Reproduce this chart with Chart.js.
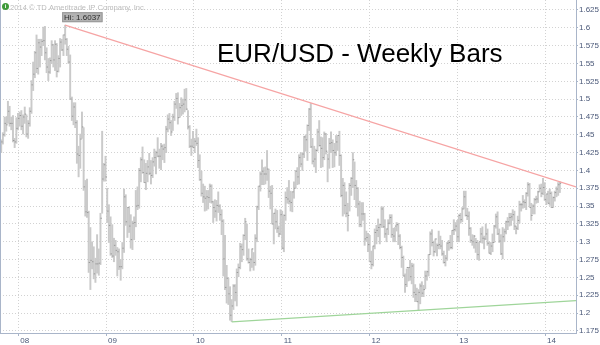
<!DOCTYPE html>
<html>
<head>
<meta charset="utf-8">
<title>EUR/USD - Weekly Bars</title>
<script src="https://cdn.jsdelivr.net/npm/chart.js@4.4.1/dist/chart.umd.min.js"></script>
<style>
  html, body { margin: 0; padding: 0; background: #fff; }
  #wrap { width: 600px; height: 345px; }
</style>
</head>
<body>
<div id="wrap"><canvas id="chart" width="600" height="345"></canvas></div>
<script>
//
//    EUR/USD weekly bars, Oct 2007 - Mar 2014
//

// first bar is the week of 15 Oct 2007, one bar per week after that
const firstWeek = 2007.786;
const weekStep  = 7 / 365.25;

// weekly highs, one line per month
const weekHigh = [
  1.438, 1.443, 1.453,                          // 2007 Oct
  1.475, 1.475, 1.497, 1.490,                   // Nov
  1.475, 1.477, 1.445, 1.474, 1.480,            // Dec
  1.482, 1.484, 1.478, 1.489,                   // 2008 Jan
  1.478, 1.470, 1.488, 1.526,                   // Feb
  1.552, 1.567, 1.590, 1.584, 1.584,            // Mar
  1.584, 1.601, 1.602, 1.572,                   // Apr
  1.557, 1.558, 1.582, 1.577,                   // May
  1.582, 1.578, 1.561, 1.585, 1.584,            // Jun
  1.590, 1.6037, 1.585, 1.574,                  // Jul
  1.562, 1.503, 1.495, 1.495,                   // Aug
  1.470, 1.434, 1.451, 1.482, 1.460,            // Sep
  1.386, 1.388, 1.343, 1.320,                   // Oct
  1.300, 1.293, 1.277, 1.310,                   // Nov
  1.290, 1.340, 1.455, 1.410, 1.420,            // Dec
  1.375, 1.352, 1.335, 1.324,                   // 2009 Jan
  1.305, 1.302, 1.292, 1.290,                   // Feb
  1.275, 1.299, 1.374, 1.366, 1.348,            // Mar
  1.349, 1.338, 1.329, 1.335,                   // Apr
  1.372, 1.377, 1.403, 1.418,                   // May
  1.433, 1.415, 1.410, 1.414, 1.424,            // Jun
  1.414, 1.418, 1.430, 1.427,                   // Jul
  1.446, 1.430, 1.438, 1.436, 1.437,            // Aug
  1.462, 1.478, 1.480, 1.470,                   // Sep
  1.479, 1.497, 1.508, 1.509,                   // Oct
  1.494, 1.502, 1.500, 1.514, 1.515,            // Nov
  1.484, 1.463, 1.444, 1.455,                   // Dec
  1.445, 1.458, 1.446, 1.422,                   // 2010 Jan
  1.399, 1.381, 1.378, 1.372,                   // Feb
  1.372, 1.381, 1.380, 1.357, 1.359,            // Mar
  1.358, 1.370, 1.352, 1.345,                   // Apr
  1.331, 1.309, 1.267, 1.249, 1.237,            // May
  1.219, 1.240, 1.240, 1.262,                   // Jun
  1.269, 1.298, 1.297, 1.310,                   // Jul
  1.333, 1.325, 1.290, 1.277, 1.290,            // Aug
  1.285, 1.310, 1.350, 1.378,                   // Sep
  1.398, 1.415, 1.404, 1.405,                   // Oct
  1.428, 1.402, 1.378, 1.379, 1.340,            // Nov
  1.346, 1.344, 1.322, 1.345,                   // Dec
  1.343, 1.338, 1.370, 1.376, 1.386,            // 2011 Jan
  1.371, 1.370, 1.384, 1.400,                   // Feb
  1.404, 1.422, 1.425, 1.425,                   // Mar
  1.448, 1.450, 1.464, 1.487,                   // Apr
  1.494, 1.445, 1.434, 1.430, 1.458,            // May
  1.470, 1.447, 1.446, 1.454,                   // Jun
  1.452, 1.423, 1.445, 1.454,                   // Jul
  1.443, 1.438, 1.449, 1.449, 1.455,            // Aug
  1.422, 1.389, 1.383, 1.370,                   // Sep
  1.354, 1.382, 1.390, 1.425, 1.412,            // Oct
  1.386, 1.376, 1.357, 1.355,                   // Nov
  1.355, 1.340, 1.315, 1.312,                   // Dec
  1.309, 1.287, 1.294, 1.318, 1.323,            // 2012 Jan
  1.332, 1.325, 1.349, 1.349,                   // Feb
  1.331, 1.318, 1.331, 1.338,                   // Mar
  1.338, 1.319, 1.320, 1.327, 1.326,            // Apr
  1.310, 1.294, 1.280, 1.255,                   // May
  1.262, 1.264, 1.274, 1.270,                   // Jun
  1.269, 1.240, 1.235, 1.233, 1.241,            // Jul
  1.244, 1.239, 1.259, 1.259,                   // Aug
  1.282, 1.314, 1.317, 1.301,                   // Sep
  1.304, 1.297, 1.315, 1.308, 1.302,            // Oct
  1.287, 1.281, 1.299, 1.302,                   // Nov
  1.309, 1.316, 1.331, 1.327, 1.330,            // Dec
  1.338, 1.340, 1.348, 1.371,                   // 2013 Jan
  1.371, 1.347, 1.342, 1.320,                   // Feb
  1.310, 1.309, 1.305, 1.302,                   // Mar
  1.299, 1.319, 1.321, 1.308, 1.325,            // Apr
  1.318, 1.300, 1.299, 1.311,                   // May
  1.323, 1.339, 1.342, 1.318,                   // Jun
  1.310, 1.320, 1.318, 1.329, 1.334,            // Jul
  1.340, 1.340, 1.345, 1.343,                   // Aug
  1.322, 1.336, 1.357, 1.354, 1.365,            // Sep
  1.359, 1.369, 1.383, 1.382,                   // Oct
  1.354, 1.352, 1.361, 1.364,                   // Nov
  1.371, 1.380, 1.381, 1.389, 1.383,            // Dec
  1.367, 1.371, 1.374, 1.370,                   // 2014 Jan
  1.363, 1.371, 1.377, 1.383,                   // Feb
  1.384                                         // Mar
];

// weekly lows
const weekLow = [
  1.420, 1.425, 1.437,
  1.448, 1.455, 1.466, 1.462,
  1.457, 1.440, 1.432, 1.438, 1.457,
  1.462, 1.457, 1.451, 1.466,
  1.447, 1.445, 1.462, 1.480,
  1.512, 1.530, 1.537, 1.535, 1.545,
  1.561, 1.575, 1.555, 1.537,
  1.526, 1.536, 1.550, 1.545,
  1.540, 1.531, 1.538, 1.545, 1.568,
  1.561, 1.577, 1.561, 1.550,
  1.500, 1.470, 1.464, 1.460,
  1.410, 1.391, 1.403, 1.445, 1.372,
  1.336, 1.334, 1.257, 1.233,
  1.262, 1.248, 1.243, 1.256,
  1.253, 1.268, 1.340, 1.385, 1.385,
  1.327, 1.299, 1.281, 1.278,
  1.272, 1.281, 1.252, 1.261,
  1.246, 1.262, 1.285, 1.323, 1.306,
  1.313, 1.291, 1.289, 1.303,
  1.321, 1.345, 1.347, 1.384,
  1.396, 1.383, 1.373, 1.384, 1.394,
  1.381, 1.390, 1.406, 1.395,
  1.419, 1.403, 1.401, 1.415, 1.411,
  1.425, 1.454, 1.458, 1.449,
  1.456, 1.470, 1.487, 1.465,
  1.474, 1.477, 1.479, 1.482, 1.485,
  1.458, 1.432, 1.421, 1.432,
  1.425, 1.435, 1.404, 1.386,
  1.364, 1.355, 1.343, 1.344,
  1.346, 1.355, 1.354, 1.327, 1.334,
  1.329, 1.341, 1.330, 1.310,
  1.252, 1.233, 1.214, 1.212, 1.190,
  1.188, 1.205, 1.217, 1.210,
  1.251, 1.262, 1.272, 1.281,
  1.303, 1.274, 1.270, 1.259, 1.264,
  1.260, 1.267, 1.300, 1.345,
  1.371, 1.380, 1.380, 1.381,
  1.386, 1.362, 1.346, 1.325, 1.297,
  1.318, 1.313, 1.307, 1.310,
  1.290, 1.286, 1.330, 1.354, 1.353,
  1.343, 1.342, 1.361, 1.375,
  1.380, 1.381, 1.405, 1.400,
  1.418, 1.427, 1.414, 1.456,
  1.432, 1.409, 1.405, 1.397, 1.427,
  1.434, 1.404, 1.405, 1.415,
  1.423, 1.384, 1.403, 1.425,
  1.404, 1.405, 1.421, 1.428, 1.407,
  1.363, 1.336, 1.339, 1.335,
  1.315, 1.343, 1.365, 1.376, 1.359,
  1.348, 1.336, 1.321, 1.321,
  1.330, 1.295, 1.301, 1.286,
  1.272, 1.262, 1.266, 1.290, 1.297,
  1.307, 1.297, 1.320, 1.320,
  1.306, 1.300, 1.310, 1.325,
  1.306, 1.300, 1.300, 1.315, 1.296,
  1.290, 1.264, 1.252, 1.229,
  1.237, 1.245, 1.246, 1.241,
  1.222, 1.216, 1.216, 1.204, 1.213,
  1.223, 1.223, 1.234, 1.246,
  1.252, 1.282, 1.294, 1.280,
  1.285, 1.280, 1.290, 1.290, 1.281,
  1.270, 1.266, 1.274, 1.288,
  1.290, 1.290, 1.310, 1.315, 1.300,
  1.300, 1.326, 1.328, 1.346,
  1.336, 1.331, 1.309, 1.299,
  1.295, 1.291, 1.285, 1.275,
  1.274, 1.299, 1.298, 1.290, 1.303,
  1.295, 1.284, 1.282, 1.286,
  1.299, 1.319, 1.310, 1.299,
  1.282, 1.276, 1.300, 1.311, 1.317,
  1.322, 1.323, 1.330, 1.317,
  1.311, 1.317, 1.326, 1.343, 1.347,
  1.348, 1.345, 1.364, 1.349,
  1.330, 1.339, 1.339, 1.354,
  1.355, 1.370, 1.363, 1.366, 1.358,
  1.352, 1.354, 1.351, 1.348,
  1.348, 1.357, 1.363, 1.365,
  1.369
];

// weekly closes
const weekClose = [
  1.433, 1.440, 1.450,
  1.466, 1.464, 1.483, 1.466,
  1.466, 1.442, 1.440, 1.459, 1.473,
  1.477, 1.462, 1.475, 1.479,
  1.451, 1.466, 1.483, 1.520,
  1.535, 1.565, 1.543, 1.579, 1.573,
  1.581, 1.582, 1.565, 1.545,
  1.538, 1.554, 1.576, 1.555,
  1.577, 1.539, 1.557, 1.580, 1.569,
  1.590, 1.584, 1.570, 1.552,
  1.500, 1.476, 1.489, 1.467,
  1.423, 1.421, 1.444, 1.461, 1.377,
  1.342, 1.341, 1.271, 1.274,
  1.272, 1.255, 1.269, 1.269,
  1.270, 1.333, 1.388, 1.408, 1.391,
  1.343, 1.323, 1.283, 1.280,
  1.295, 1.288, 1.286, 1.265,
  1.265, 1.291, 1.363, 1.328, 1.348,
  1.322, 1.303, 1.326, 1.327,
  1.350, 1.351, 1.400, 1.415,
  1.397, 1.383, 1.396, 1.405, 1.396,
  1.393, 1.412, 1.418, 1.425,
  1.420, 1.420, 1.434, 1.430, 1.432,
  1.458, 1.472, 1.467, 1.454,
  1.475, 1.493, 1.501, 1.474,
  1.488, 1.491, 1.493, 1.499, 1.486,
  1.461, 1.434, 1.434, 1.432,
  1.441, 1.438, 1.414, 1.387,
  1.368, 1.363, 1.361, 1.363,
  1.362, 1.378, 1.356, 1.348, 1.343,
  1.351, 1.350, 1.338, 1.329,
  1.276, 1.236, 1.249, 1.227, 1.197,
  1.210, 1.238, 1.229, 1.257,
  1.264, 1.293, 1.289, 1.309,
  1.328, 1.276, 1.271, 1.275, 1.290,
  1.271, 1.305, 1.349, 1.378,
  1.395, 1.399, 1.395, 1.395,
  1.402, 1.371, 1.368, 1.325, 1.340,
  1.328, 1.319, 1.311, 1.338,
  1.291, 1.337, 1.362, 1.360, 1.357,
  1.355, 1.370, 1.375, 1.399,
  1.391, 1.418, 1.409, 1.423,
  1.447, 1.443, 1.463, 1.486,
  1.433, 1.413, 1.416, 1.428, 1.454,
  1.435, 1.431, 1.418, 1.451,
  1.427, 1.416, 1.438, 1.439,
  1.428, 1.425, 1.440, 1.449, 1.421,
  1.365, 1.379, 1.351, 1.340,
  1.337, 1.379, 1.389, 1.415, 1.379,
  1.375, 1.353, 1.324, 1.339,
  1.339, 1.304, 1.306, 1.296,
  1.272, 1.268, 1.294, 1.313, 1.316,
  1.320, 1.324, 1.346, 1.321,
  1.311, 1.318, 1.326, 1.334,
  1.310, 1.308, 1.322, 1.324, 1.308,
  1.292, 1.278, 1.252, 1.240,
  1.264, 1.264, 1.251, 1.266,
  1.229, 1.226, 1.216, 1.229, 1.238,
  1.228, 1.233, 1.252, 1.258,
  1.282, 1.311, 1.299, 1.286,
  1.304, 1.295, 1.296, 1.294, 1.283,
  1.271, 1.277, 1.298, 1.299,
  1.292, 1.316, 1.317, 1.322, 1.307,
  1.337, 1.331, 1.346, 1.363,
  1.337, 1.336, 1.319, 1.302,
  1.300, 1.308, 1.299, 1.282,
  1.300, 1.311, 1.305, 1.304, 1.311,
  1.298, 1.284, 1.294, 1.299,
  1.322, 1.335, 1.311, 1.301,
  1.283, 1.307, 1.314, 1.328, 1.328,
  1.334, 1.335, 1.338, 1.322,
  1.319, 1.330, 1.352, 1.352, 1.356,
  1.355, 1.368, 1.380, 1.348,
  1.337, 1.350, 1.359, 1.360,
  1.370, 1.375, 1.368, 1.376, 1.359,
  1.367, 1.354, 1.368, 1.348,
  1.362, 1.369, 1.374, 1.380,
  1.382
];

// trend lines drawn on the chart (year, price)
const resistanceX = [2008.533, 2014.352];
const resistanceY = [1.6037, 1.377];
const supportX    = [2010.431, 2014.352];
const supportY    = [1.1876, 1.2175];

const hiX = 2008.533;
const hiValue = 1.6037;

// axes
const yearTicks  = [2008, 2009, 2010, 2011, 2012, 2013, 2014];
const yearLabels = ['08', '09', '10', '11', '12', '13', '14'];
const priceTicks = [1.175, 1.2, 1.225, 1.25, 1.275, 1.3, 1.325, 1.35, 1.375, 1.4,
                    1.425, 1.45, 1.475, 1.5, 1.525, 1.55, 1.575, 1.6, 1.625];

const titleText = 'EUR/USD - Weekly Bars';
const copyText  = '2014 \u00a9 TD Ameritrade IP Company, Inc.';

var weekX = weekHigh.map((h, i) => firstWeek + i * weekStep);

var barData   = weekX.map((x, i) => ({x: x, y: [weekLow[i], weekHigh[i]]}));
var closeData = weekX.map((x, i) => ({x: x, y: weekClose[i]}));

const AXIS_COL = '#a9b5c9';
const LABEL_COL = '#4a5878';

// title, copyright, Hi label and left frame
const overlay = {
  id: 'overlay',
  afterDraw(chart) {
    const ctx = chart.ctx;
    const a = chart.chartArea;
    const xs = chart.scales.x, ys = chart.scales.y;
    ctx.save();

    ctx.strokeStyle = AXIS_COL;
    ctx.lineWidth = 1;
    ctx.beginPath();
    ctx.moveTo(a.left + 0.5, a.top);
    ctx.lineTo(a.left + 0.5, a.bottom);
    ctx.stroke();

    // copyright + small icon
    ctx.fillStyle = '#3f9a3a';
    ctx.beginPath();
    ctx.arc(5.5, 6.5, 3.5, 0, Math.PI * 2);
    ctx.fill();
    ctx.fillStyle = '#fff';
    ctx.font = 'bold 6px "Liberation Sans"';
    ctx.textAlign = 'center';
    ctx.textBaseline = 'middle';
    ctx.fillText('i', 5.5, 6.8);
    ctx.textAlign = 'left';
    ctx.fillStyle = '#bcbcbc';
    ctx.font = '7.6px "Liberation Sans"';
    ctx.fillText(copyText, 10, 7.5);

    // title
    ctx.fillStyle = '#000';
    ctx.font = '26px "Liberation Sans"';
    ctx.textBaseline = 'alphabetic';
    ctx.fillText(titleText, 217, 62);

    // Hi label
    const px = xs.getPixelForValue(hiX);
    const py = ys.getPixelForValue(hiValue);
    ctx.font = '8px "Liberation Sans"';
    const label = 'Hi: ' + hiValue.toFixed(4);
    const w = ctx.measureText(label).width + 4;
    const bx = px - 3, by = py - 13;
    ctx.fillStyle = '#b2b2b2';
    ctx.fillRect(bx, by, w, 10);
    ctx.strokeStyle = '#9a9a9a';
    ctx.strokeRect(bx + 0.5, by + 0.5, w - 1, 9);
    ctx.fillStyle = '#2b2b2b';
    ctx.textBaseline = 'middle';
    ctx.fillText(label, bx + 2, by + 5.5);

    ctx.restore();
  }
};

var ctx = document.getElementById('chart').getContext('2d');

var chart = new Chart(ctx, {
  type: 'bar',
  data: {
    datasets: [
      {
        type: 'line',
        data: resistanceX.map((x, i) => ({x: x, y: resistanceY[i]})),
        borderColor: '#f6a4a4',
        borderWidth: 1.3,
        pointRadius: 0,
        order: 1
      },
      {
        type: 'line',
        data: supportX.map((x, i) => ({x: x, y: supportY[i]})),
        borderColor: '#9fd59a',
        borderWidth: 1.3,
        pointRadius: 0,
        order: 1
      },
      {
        type: 'line',
        data: closeData,
        showLine: false,
        pointStyle: 'dash',
        pointRadius: 1.4,
        borderColor: '#999999',
        borderWidth: 1,
        order: 2
      },
      {
        type: 'bar',
        data: barData,
        backgroundColor: '#cacaca',
        barThickness: 1.3,
        order: 3
      }
    ]
  },
  options: {
    responsive: false,
    animation: false,
    layout: { padding: 0, autoPadding: false },
    plugins: { legend: { display: false }, tooltip: { enabled: false } },
    scales: {
      x: {
        type: 'linear',
        offset: false,
        min: 2007.7916,
        max: 2014.352,
        afterBuildTicks: s => { s.ticks = yearTicks.map(v => ({value: v})); },
        afterFit: s => { s.height = 12; s.paddingLeft = 0; s.paddingRight = 0; s.paddingTop = 0; s.paddingBottom = 0; },
        ticks: {
          autoSkip: false,
          maxRotation: 0,
          align: 'start',
          padding: 0,
          labelOffset: 2,
          color: LABEL_COL,
          font: { family: 'Liberation Sans', size: 8 },
          callback: (v, i) => yearLabels[i]
        },
        grid: { offset: false, color: '#d2d2d2', tickLength: 3, tickColor: AXIS_COL },
        border: { display: true, color: AXIS_COL, dash: [1, 2] }
      },
      y: {
        position: 'right',
        min: 1.1721,
        max: 1.639,
        afterBuildTicks: s => { s.ticks = priceTicks.map(v => ({value: v})); },
        afterFit: s => { s.width = 24; s.paddingTop = 0; s.paddingBottom = 0; },
        ticks: {
          autoSkip: false,
          padding: 1,
          color: LABEL_COL,
          font: { family: 'Liberation Sans', size: 8 },
          callback: v => parseFloat(v.toFixed(3)).toString()
        },
        grid: { color: '#d2d2d2', tickLength: 2, tickColor: AXIS_COL },
        border: { display: true, color: AXIS_COL, dash: [1, 2] }
      }
    }
  },
  plugins: [overlay]
});
</script>
</body>
</html>
